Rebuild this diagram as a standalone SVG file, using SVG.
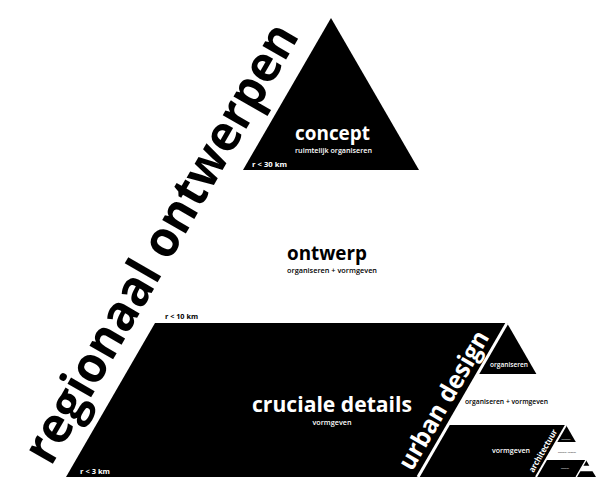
<svg xmlns="http://www.w3.org/2000/svg" width="612" height="477" viewBox="0 0 612 477">
<style>
.blk{fill:#000}
.sep{stroke:#fff;fill:none;stroke-linecap:butt}
text{font-family:"Open Sans","DejaVu Sans",sans-serif}
.big{font-weight:700;font-size:50px;fill:#000}
.title{font-weight:700;font-size:20px}
.sub{font-weight:600;font-size:7px}
.r{font-weight:700;font-size:7px}
.w{fill:#fff}
.k{fill:#000}
</style>
<rect width="612" height="477" fill="#fff"/>

<g id="regionaal">
<text class="big" transform="translate(51,467) rotate(-60)" textLength="498" lengthAdjust="spacingAndGlyphs">regionaal ontwerpen</text>
</g>

<g id="concept">
<polygon class="blk" points="331,18 243,170 419,170"/>
<text class="title w" x="295" y="140" textLength="75" lengthAdjust="spacingAndGlyphs">concept</text>
<text class="sub w" x="295" y="153" textLength="77" lengthAdjust="spacingAndGlyphs">ruimtelijk organiseren</text>
<text class="r w" x="252" y="167" textLength="35" lengthAdjust="spacingAndGlyphs">r &lt; 30 km</text>
</g>

<g id="ontwerp">
<text class="title k" x="287" y="260" textLength="80" lengthAdjust="spacingAndGlyphs">ontwerp</text>
<text class="sub k" x="287" y="273" textLength="90" lengthAdjust="spacingAndGlyphs">organiseren + vormgeven</text>
<text class="r k" x="165" y="319" textLength="33" lengthAdjust="spacingAndGlyphs">r &lt; 10 km</text>
</g>

<g id="cruciale-details">
<polygon class="blk" points="155,323 507,323 418,477 66,477"/>
<text class="w" x="332" y="412" text-anchor="middle" font-size="22" font-weight="700" textLength="160" lengthAdjust="spacingAndGlyphs">cruciale details</text>
<text class="sub w" x="332" y="424.5" text-anchor="middle" textLength="39" lengthAdjust="spacingAndGlyphs">vormgeven</text>
<text class="r w" x="80" y="474" textLength="30" lengthAdjust="spacingAndGlyphs">r &lt; 3 km</text>
</g>

<g id="urban-design">
<text class="w" transform="translate(412,472) rotate(-60)" font-size="25" font-weight="700" textLength="156" lengthAdjust="spacingAndGlyphs">urban design</text>
<polygon class="blk" points="507,323 477.6,374 536.4,374"/>
<text class="sub w" x="509" y="367" text-anchor="middle" font-size="5" textLength="38" lengthAdjust="spacingAndGlyphs">organiseren</text>
<text class="sub k" x="506.5" y="404" text-anchor="middle" font-size="5.5" textLength="83" lengthAdjust="spacingAndGlyphs">organiseren + vormgeven</text>
<polygon class="blk" points="448,425 566,425 536,477 418,477"/>
<text class="sub w" x="511" y="453" text-anchor="middle" font-size="5" textLength="38" lengthAdjust="spacingAndGlyphs">vormgeven</text>
</g>

<g id="architectuur">
<text class="w" transform="translate(533.5,473) rotate(-60)" font-size="8.5" font-weight="700" textLength="48" lengthAdjust="spacingAndGlyphs">architectuur</text>
<polygon class="blk" points="566,425 556.2,442 575.8,442"/>
<text class="w" x="566" y="440" text-anchor="middle" font-size="2" textLength="9" lengthAdjust="spacingAndGlyphs">organiseren</text>
<text class="k" x="567" y="453" text-anchor="middle" font-size="2.2" textLength="18" lengthAdjust="spacingAndGlyphs">organiseren + vormgeven</text>
<polygon class="blk" points="546,460 586,460 576,477 536,477"/>
<text class="w" x="565" y="469" text-anchor="middle" font-size="2" textLength="8" lengthAdjust="spacingAndGlyphs">vormgeven</text>
</g>

<g id="bouwen">
<polygon class="blk" points="586,460 582.7,465.7 589.3,465.7"/>
<polygon class="blk" points="579.5,471.3 592.5,471.3 596,477 576,477"/>
</g>

<g id="separators">
<line class="sep" x1="507" y1="323" x2="418" y2="477" stroke-width="3"/>
<line class="sep" x1="566" y1="425" x2="536" y2="477" stroke-width="2"/>
<line class="sep" x1="586" y1="460" x2="576.2" y2="477" stroke-width="1.5"/>
</g>
</svg>
